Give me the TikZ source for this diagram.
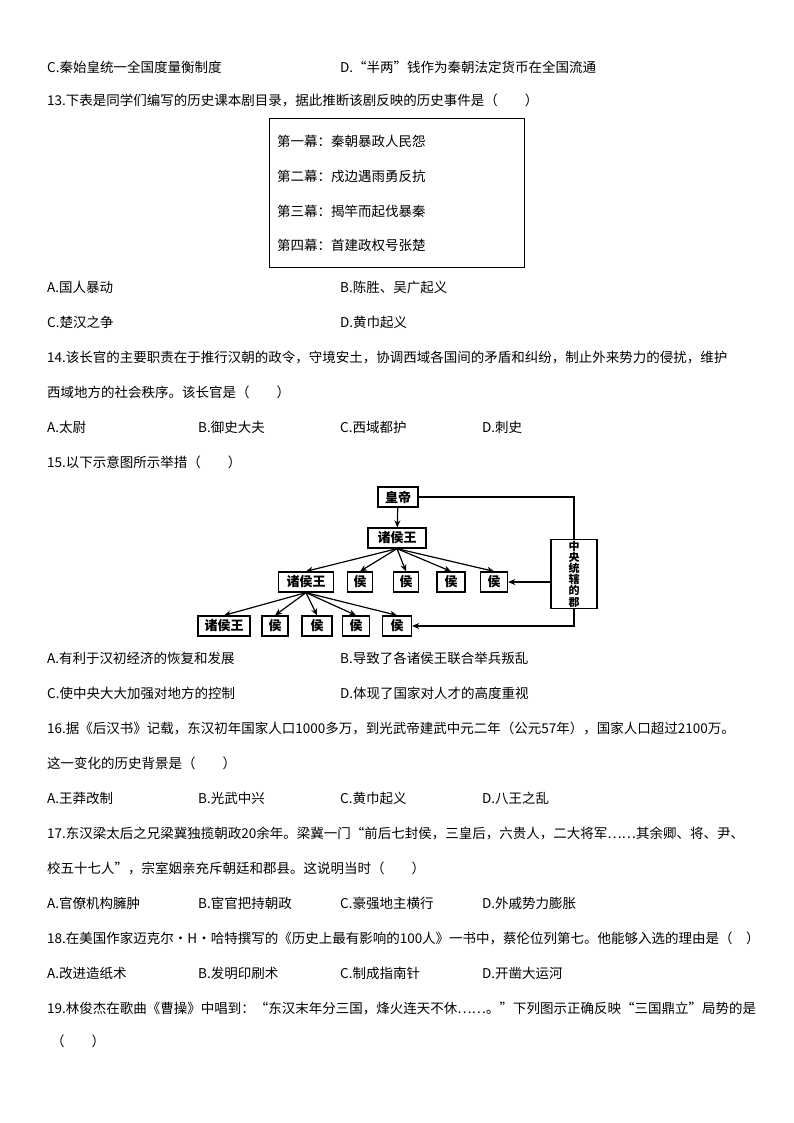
\documentclass[tikz,border=0pt]{standalone}
\usepackage{fontspec}
\setmainfont{Noto Sans CJK SC}
\newfontfamily\serifcjk{Noto Sans CJK SC}
\usetikzlibrary{arrows.meta}
\begin{document}
\begin{tikzpicture}[x=1pt,y=-1pt,
  txt/.style={anchor=west,inner sep=0pt,font=\fontsize{13.5}{16}\selectfont},
  bx/.style={draw,line width=1.3pt,minimum height=20pt,inner sep=1pt,font=\fontsize{13}{14}\selectfont\bfseries},
  arr/.style={-{Stealth[length=7pt,width=6pt]},line width=1.2pt}]
\useasboundingbox (0,0) rectangle (794,1123);
\node[txt] (t1) at (47,67) {C.秦始皇统一全国度量衡制度};
\node[txt] (t2) at (340,67) {D.“半两”钱作为秦朝法定货币在全国流通};
\node[txt] (t3) at (47,100) {13.下表是同学们编写的历史课本剧目录，据此推断该剧反映的历史事件是（\qquad ）};
\draw[line width=0.8pt] (269,118) rectangle (524,267);
\node[txt] (m1) at (277,141) {第一幕：秦朝暴政人民怨};
\node[txt] (m2) at (277,176) {第二幕：戍边遇雨勇反抗};
\node[txt] (m3) at (277,211) {第三幕：揭竿而起伐暴秦};
\node[txt] (m4) at (277,245) {第四幕：首建政权号张楚};
\node[txt] (a13) at (47,287) {A.国人暴动};
\node[txt] (b13) at (340,287) {B.陈胜、吴广起义};
\node[txt] (c13) at (47,322) {C.楚汉之争};
\node[txt] (d13) at (340,322) {D.黄巾起义};
\node[txt] (q14) at (47,357) {14.该长官的主要职责在于推行汉朝的政令，守境安土，协调西域各国间的矛盾和纠纷，制止外来势力的侵扰，维护};
\node[txt] (q14b) at (47,392) {西域地方的社会秩序。该长官是（\qquad ）};
\node[txt] (a14) at (47,427) {A.太尉};
\node[txt] (b14) at (198,427) {B.御史大夫};
\node[txt] (c14) at (340,427) {C.西域都护};
\node[txt] (d14) at (482,427) {D.刺史};
\node[txt] (q15) at (47,462) {15.以下示意图所示举措（\qquad ）};
% diagram
\node[bx,minimum width=40pt] (hd) at (398,497) {皇帝};
\node[bx,minimum width=58pt] (z1) at (397,538) {诸侯王};
\node[bx,minimum width=55pt] (z2) at (306,582) {诸侯王};
\node[bx,minimum width=25pt] (h1) at (360,582) {侯};
\node[bx,minimum width=25pt] (h2) at (406,582) {侯};
\node[bx,minimum width=28pt] (h3) at (451,582) {侯};
\node[bx,minimum width=27pt] (h4) at (494,582) {侯};
\node[bx,minimum width=52pt] (z3) at (224,626) {诸侯王};
\node[bx,minimum width=26pt] (g1) at (275,626) {侯};
\node[bx,minimum width=30pt] (g2) at (317,626) {侯};
\node[bx,minimum width=27pt] (g3) at (356,626) {侯};
\node[bx,minimum width=29pt] (g4) at (397,626) {侯};
\node[bx,minimum width=46pt,minimum height=68pt,align=center,font=\fontsize{11}{11.2}\selectfont\bfseries] (jun) at (574,574) {中\\央\\统\\辖\\的\\郡};
\draw[arr] (hd) -- (z1);
\foreach \n in {z2,h1,h2,h3,h4} \draw[arr] (z1.south) -- (\n.north);
\foreach \n in {z3,g1,g2,g3,g4} \draw[arr] (z2.south) -- (\n.north);
\draw[line width=1.2pt] (hd.east) -- (hd.east -| jun.north) -- (jun.north);
\draw[arr] (jun.west |- h4) -- (h4.east);
\draw[arr] (jun.south) |- (g4.east);
\node[txt] (a15) at (47,658) {A.有利于汉初经济的恢复和发展};
\node[txt] (b15) at (340,658) {B.导致了各诸侯王联合举兵叛乱};
\node[txt] (c15) at (47,693) {C.使中央大大加强对地方的控制};
\node[txt] (d15) at (340,693) {D.体现了国家对人才的高度重视};
\node[txt] (q16) at (47,728) {16.据《后汉书》记载，东汉初年国家人口1000多万，到光武帝建武中元二年（公元57年），国家人口超过2100万。};
\node[txt] (q16b) at (47,763) {这一变化的历史背景是（\qquad ）};
\node[txt] (a16) at (47,798) {A.王莽改制};
\node[txt] (b16) at (198,798) {B.光武中兴};
\node[txt] (c16) at (340,798) {C.黄巾起义};
\node[txt] (d16) at (482,798) {D.八王之乱};
\node[txt] (q17) at (47,833) {17.东汉梁太后之兄梁冀独揽朝政20余年。梁冀一门“前后七封侯，三皇后，六贵人，二大将军……其余卿、将、尹、};
\node[txt] (q17b) at (47,868) {校五十七人”，宗室姻亲充斥朝廷和郡县。这说明当时（\qquad ）};
\node[txt] (a17) at (47,903) {A.官僚机构臃肿};
\node[txt] (b17) at (198,903) {B.宦官把持朝政};
\node[txt] (c17) at (340,903) {C.豪强地主横行};
\node[txt] (d17) at (482,903) {D.外戚势力膨胀};
\node[txt] (q18) at (47,938) {18.在美国作家迈克尔·H·哈特撰写的《历史上最有影响的100人》一书中，蔡伦位列第七。他能够入选的理由是（\quad ）};
\node[txt] (a18) at (47,973) {A.改进造纸术};
\node[txt] (b18) at (198,973) {B.发明印刷术};
\node[txt] (c18) at (340,973) {C.制成指南针};
\node[txt] (d18) at (482,973) {D.开凿大运河};
\node[txt] (q19) at (47,1008) {19.林俊杰在歌曲《曹操》中唱到：“东汉末年分三国，烽火连天不休……。”下列图示正确反映“三国鼎立”局势的是};
\node[txt] (q19b) at (51,1041) {（\qquad ）};
\end{tikzpicture}
\end{document}
